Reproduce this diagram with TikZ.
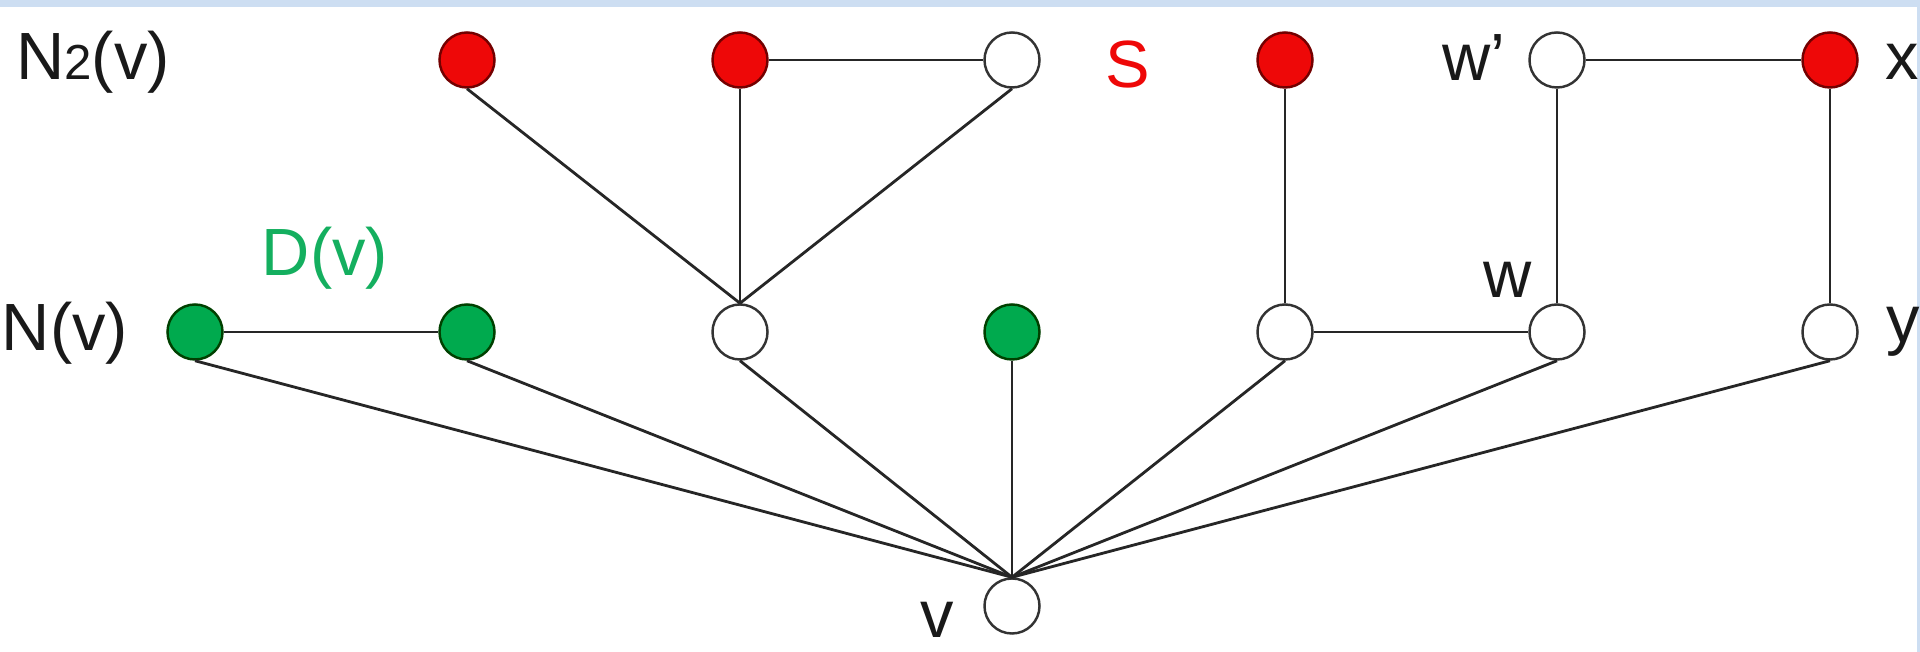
\documentclass[tikz,border=0pt]{standalone}
\usepackage{fontspec}
\setmainfont{Liberation Sans}
\usetikzlibrary{positioning}
\definecolor{nodered}{RGB}{238,8,8}
\definecolor{nodegreen}{RGB}{0,170,78}
\definecolor{labelgreen}{RGB}{20,175,95}
\definecolor{bandblue}{RGB}{205,222,242}

\begin{document}
\begin{tikzpicture}[x=0.01cm, y=-0.01cm,
    vtx/.style={circle, draw=black!80, line width=0.7pt, minimum size=0.55cm, inner sep=0pt, fill=white},
    redvtx/.style={vtx, fill=nodered, draw=red!45!black},
    greenvtx/.style={vtx, fill=nodegreen, draw=green!25!black},
    lbl/.style={font=\fontsize{19}{22}\selectfont, inner sep=0pt, text=black!90},
    link/.style={line width=0.8pt, black!85}]
    \useasboundingbox (0,0) rectangle (1920,652);
    \fill[bandblue] (0,0) rectangle (1920,7);
    \fill[bandblue] (1917,0) rectangle (1920,652);

    % Second neighbourhood
    \node[redvtx] (t1) at (467,60) {};
    \node[redvtx] (t2) at (740,60) {};
    \node[vtx]    (t3) at (1012,60) {};
    \node[redvtx] (t4) at (1285,60) {};
    \node[vtx]    (wp) at (1557,60) {};
    \node[redvtx] (x)  at (1830,60) {};

    % Neighbourhood
    \node[greenvtx] (m1) at (195,332) {};
    \node[greenvtx] (m2) at (467,332) {};
    \node[vtx]      (m3) at (740,332) {};
    \node[greenvtx] (m4) at (1012,332) {};
    \node[vtx]      (m5) at (1285,332) {};
    \node[vtx]      (w)  at (1557,332) {};
    \node[vtx]      (y)  at (1830,332) {};

    % Root
    \node[vtx] (v) at (1012,606) {};

    % Edges
    \foreach \a/\b in {t1/m3, t2/m3, t3/m3, t4/m5, wp/w, x/y}
        \draw[link] (\a.south) -- (\b.north);
    \foreach \a in {m1,m2,m3,m4,m5,w,y}
        \draw[link] (\a.south) -- (v.north);
    \draw[link] (t2) -- (t3);
    \draw[link] (wp) -- (x);
    \draw[link] (m1) -- (m2);
    \draw[link] (m5) -- (w);

    % Labels
    \node[lbl] (n2lab) at (93,62) {N{\fontsize{14}{14}\selectfont 2}(v)};
    \node[lbl] (nlab) at (65,333) {N(v)};
    \node[lbl, text=labelgreen] (dlab) at (325,258) {D(v)};
    \node[lbl, text=nodered] (slab) at (1128,65) {S};
    \node[lbl] (wplab) at (1474,58) {w'};
    \node[lbl] (xlab) at (1902,62) {x};
    \node[lbl] (wlab) at (1508,280) {w};
    \node[lbl] (ylab) at (1903,332) {y};
    \node[lbl] (vlab) at (937,620) {v};
\end{tikzpicture}
\end{document}
